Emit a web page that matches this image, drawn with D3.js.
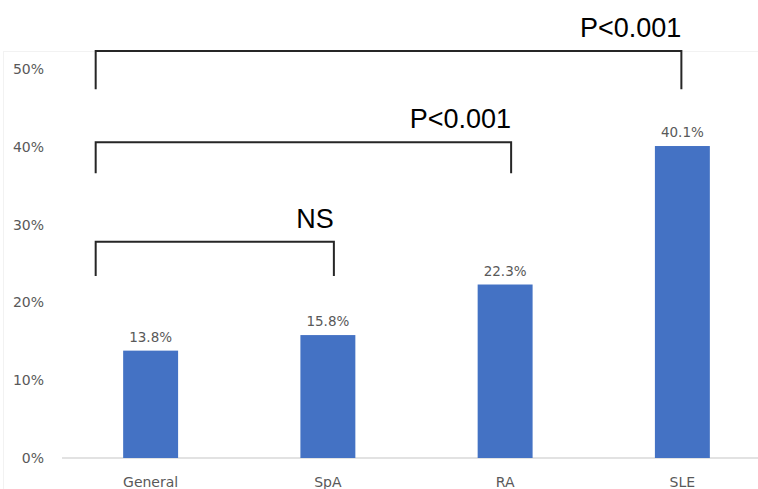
<!DOCTYPE html>
<html>
<head>
<meta charset="utf-8">
<script src="https://cdn.jsdelivr.net/npm/d3@7/dist/d3.min.js"></script>
<style>
  html, body { margin: 0; padding: 0; background: #fff; }
  svg { display: block; }
</style>
</head>
<body>
<div id="chart"></div>
<script>
// chart values
const categories = ['General', 'SpA', 'RA', 'SLE'];
const rates = [13.8, 15.8, 22.3, 40.1];
const yTicks = [0, 10, 20, 30, 40, 50];

// comparison brackets: from/to category, top and leg bottom (in %), label
const bracketFrom = ['General', 'General', 'General'];
const bracketTo = ['SpA', 'RA', 'SLE'];
const bracketTop = [27.8, 40.6, 52.3];
const bracketBottom = [23.4, 36.6, 47.4];
const bracketLabels = ['NS', 'P<0.001', 'P<0.001'];

const width = 758, height = 489;

const svg = d3.select('#chart')
    .append('svg')
    .attr('width', width)
    .attr('height', height);

// faint chart-area outline
svg.append('rect')
    .attr('x', 3.5)
    .attr('y', 51.5)
    .attr('width', width)
    .attr('height', height)
    .style('fill', 'none')
    .style('stroke', '#f2f2f2');

const x = d3.scaleBand()
    .domain(categories)
    .range([62, 771])
    .paddingInner(0.69)
    .paddingOuter(0.345);

const y = d3.scaleLinear()
    .domain([0, 50])
    .range([458, 69]);

// baseline
svg.append('line')
    .attr('x1', 62)
    .attr('x2', width)
    .attr('y1', y(0))
    .attr('y2', y(0))
    .style('stroke', '#d9d9d9')
    .style('stroke-width', 1.3);

// y axis labels (no axis line, no ticks)
const yAxis = d3.axisLeft(y)
    .tickValues(yTicks)
    .tickFormat(d => d + '%')
    .tickSize(0)
    .tickPadding(0);

const gy = svg.append('g')
    .attr('transform', 'translate(44,0)')
    .call(yAxis);
gy.select('.domain').remove();
gy.selectAll('text')
    .style('font-family', 'DejaVu Sans, sans-serif')
    .style('font-size', '14px')
    .style('fill', '#595959');

// x axis labels
const xAxis = d3.axisBottom(x).tickSize(0).tickPadding(0);
const gx = svg.append('g')
    .attr('transform', `translate(0,${y(0)})`)
    .call(xAxis);
gx.select('.domain').remove();
gx.selectAll('text')
    .attr('dy', null)
    .attr('y', 29)
    .style('font-family', 'DejaVu Sans, sans-serif')
    .style('font-size', '14px')
    .style('fill', '#595959');

// bars
const data = categories.map((c, i) => ({ cat: c, value: rates[i] }));

svg.append('g')
    .selectAll('rect')
    .data(data)
    .enter().append('rect')
    .attr('x', d => x(d.cat))
    .attr('width', x.bandwidth())
    .attr('y', d => y(d.value))
    .attr('height', d => y(0) - y(d.value))
    .style('fill', '#4472c4');

// value labels
svg.append('g')
    .selectAll('text')
    .data(data)
    .enter().append('text')
    .attr('x', d => x(d.cat) + x.bandwidth() / 2)
    .attr('y', d => y(d.value) - 9)
    .attr('text-anchor', 'middle')
    .style('font-family', 'DejaVu Sans, sans-serif')
    .style('font-size', '13.5px')
    .style('fill', '#595959')
    .text(d => d.value.toFixed(1) + '%');

// brackets
const brackets = bracketLabels.map((label, i) => ({
    from: bracketFrom[i],
    to: bracketTo[i],
    top: bracketTop[i],
    bottom: bracketBottom[i],
    label: label
}));

// small nudge of right leg relative to bar centre, as drawn in the original
const rightNudge = { SpA: 6, RA: 6, SLE: -1 };

const bg = svg.append('g');

bg.selectAll('path')
    .data(brackets)
    .enter().append('path')
    .attr('d', d => {
        const x1 = x(d.from) - x.bandwidth() / 2;
        const x2 = x(d.to) + x.bandwidth() / 2 + (rightNudge[d.to] || 0);
        return `M${x1},${y(d.bottom)}V${y(d.top)}H${x2}V${y(d.bottom)}`;
    })
    .style('fill', 'none')
    .style('stroke', '#262626')
    .style('stroke-width', 2);

bg.selectAll('text')
    .data(brackets)
    .enter().append('text')
    .attr('x', d => x(d.to) + x.bandwidth() / 2 + (rightNudge[d.to] || 0))
    .attr('y', d => y(d.top) - 14)
    .attr('text-anchor', 'end')
    .style('font-family', 'Liberation Sans, Arial, sans-serif')
    .style('font-size', '27px')
    .style('fill', '#000')
    .text(d => d.label);
</script>
</body>
</html>
